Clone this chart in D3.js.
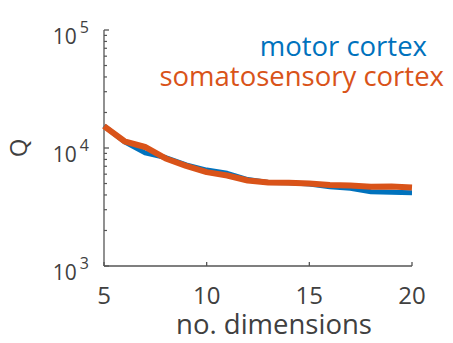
<!DOCTYPE html>
<html>
<head>
<meta charset="utf-8">
<script src="https://cdn.jsdelivr.net/npm/d3@7"></script>
<style>
  body { margin: 0; background: #fff; }
  text { font-family: "Open Sans", sans-serif; fill: #404040; }
</style>
</head>
<body>
<svg id="chart"></svg>
<script>
const dims = [5, 6, 7, 8, 9, 10, 11, 12, 13, 14, 15, 16, 17, 18, 19, 20];
const motor = [15400, 11300, 9100, 8300, 7200, 6500, 6100, 5400, 5100, 5080, 4950, 4700, 4560, 4260, 4210, 4180];
const somato = [15300, 11400, 10200, 8150, 7050, 6250, 5850, 5300, 5100, 5080, 5000, 4860, 4800, 4700, 4720, 4620];
const xTicks = [5, 10, 15, 20];
const yTicks = [1e3, 1e4, 1e5];
const seriesNames = ['motor cortex', 'somatosensory cortex'];
const seriesColors = ['#0072BD', '#D95319'];

const width = 453, height = 343;
const margin = { top: 30, right: 41, bottom: 77, left: 104 };
const w = width - margin.left - margin.right;
const h = height - margin.top - margin.bottom;

const svg = d3.select('#chart').attr('width', width).attr('height', height);
const g = svg.append('g').attr('transform', 'translate(' + margin.left + ',' + margin.top + ')');

const x = d3.scaleLinear().domain([5, 20]).range([0, w]);
const y = d3.scaleLog().domain([1e3, 1e5]).range([h, 0]);

const axisColor = '#555';

// x axis
const xAxis = g.append('g').attr('transform', 'translate(0,' + h + ')');
xAxis.append('line').attr('x1', 0).attr('x2', w).attr('stroke', axisColor).attr('stroke-width', 1.3);
xAxis.selectAll('.xt').data(xTicks).enter().append('line')
  .attr('x1', d => x(d)).attr('x2', d => x(d))
  .attr('y1', 0).attr('y2', -4)
  .attr('stroke', axisColor).attr('stroke-width', 1.3);
xAxis.selectAll('.xl').data(xTicks).enter().append('text')
  .attr('x', d => x(d)).attr('y', 38)
  .attr('text-anchor', 'middle')
  .style('font-size', '24px')
  .text(d => d);

// y axis
const yAxis = g.append('g');
yAxis.append('line').attr('y1', 0).attr('y2', h).attr('stroke', axisColor).attr('stroke-width', 1.3);
const minor = [];
for (let p = 3; p < 5; p++) for (let m = 2; m <= 9; m++) minor.push(m * Math.pow(10, p));
yAxis.selectAll('.ym').data(minor).enter().append('line')
  .attr('x1', 0).attr('x2', 3)
  .attr('y1', d => y(d)).attr('y2', d => y(d))
  .attr('stroke', axisColor).attr('stroke-width', 1.2);
yAxis.selectAll('.yt').data(yTicks).enter().append('line')
  .attr('x1', 0).attr('x2', 5)
  .attr('y1', d => y(d)).attr('y2', d => y(d))
  .attr('stroke', axisColor).attr('stroke-width', 1.3);
const yl = yAxis.selectAll('.yl').data(yTicks).enter().append('text')
  .attr('x', -15).attr('y', d => y(d) + 14)
  .attr('text-anchor', 'end')
  .style('font-size', '21px');
yl.append('tspan').text('10');
yl.append('tspan').attr('dx', 3).attr('dy', -11).style('font-size', '16px')
  .text(d => Math.round(Math.log10(d)));

// lines
const line = d3.line().x((d, i) => x(dims[i])).y(d => y(d));
[motor, somato].forEach((s, i) => {
  g.append('path').datum(s)
    .attr('fill', 'none')
    .attr('stroke', seriesColors[i])
    .attr('stroke-width', i === 0 ? 5 : 6)
    .attr('stroke-linejoin', 'round')
    .attr('d', line);
});

// legend
const legendX = [427, 444];
const legendY = [56, 86];
seriesNames.forEach((n, i) => {
  svg.append('text')
    .attr('x', legendX[i]).attr('y', legendY[i])
    .attr('text-anchor', 'end')
    .style('font-size', '27.5px')
    .style('fill', seriesColors[i])
    .text(n);
});

// axis labels
svg.append('text')
  .attr('x', 274).attr('y', 334)
  .attr('text-anchor', 'middle')
  .style('font-size', '27.5px')
  .text('no. dimensions');

svg.append('text')
  .attr('transform', 'translate(27,148) rotate(-90)')
  .attr('text-anchor', 'middle')
  .style('font-size', '24px')
  .text('Q');
</script>
</body>
</html>
